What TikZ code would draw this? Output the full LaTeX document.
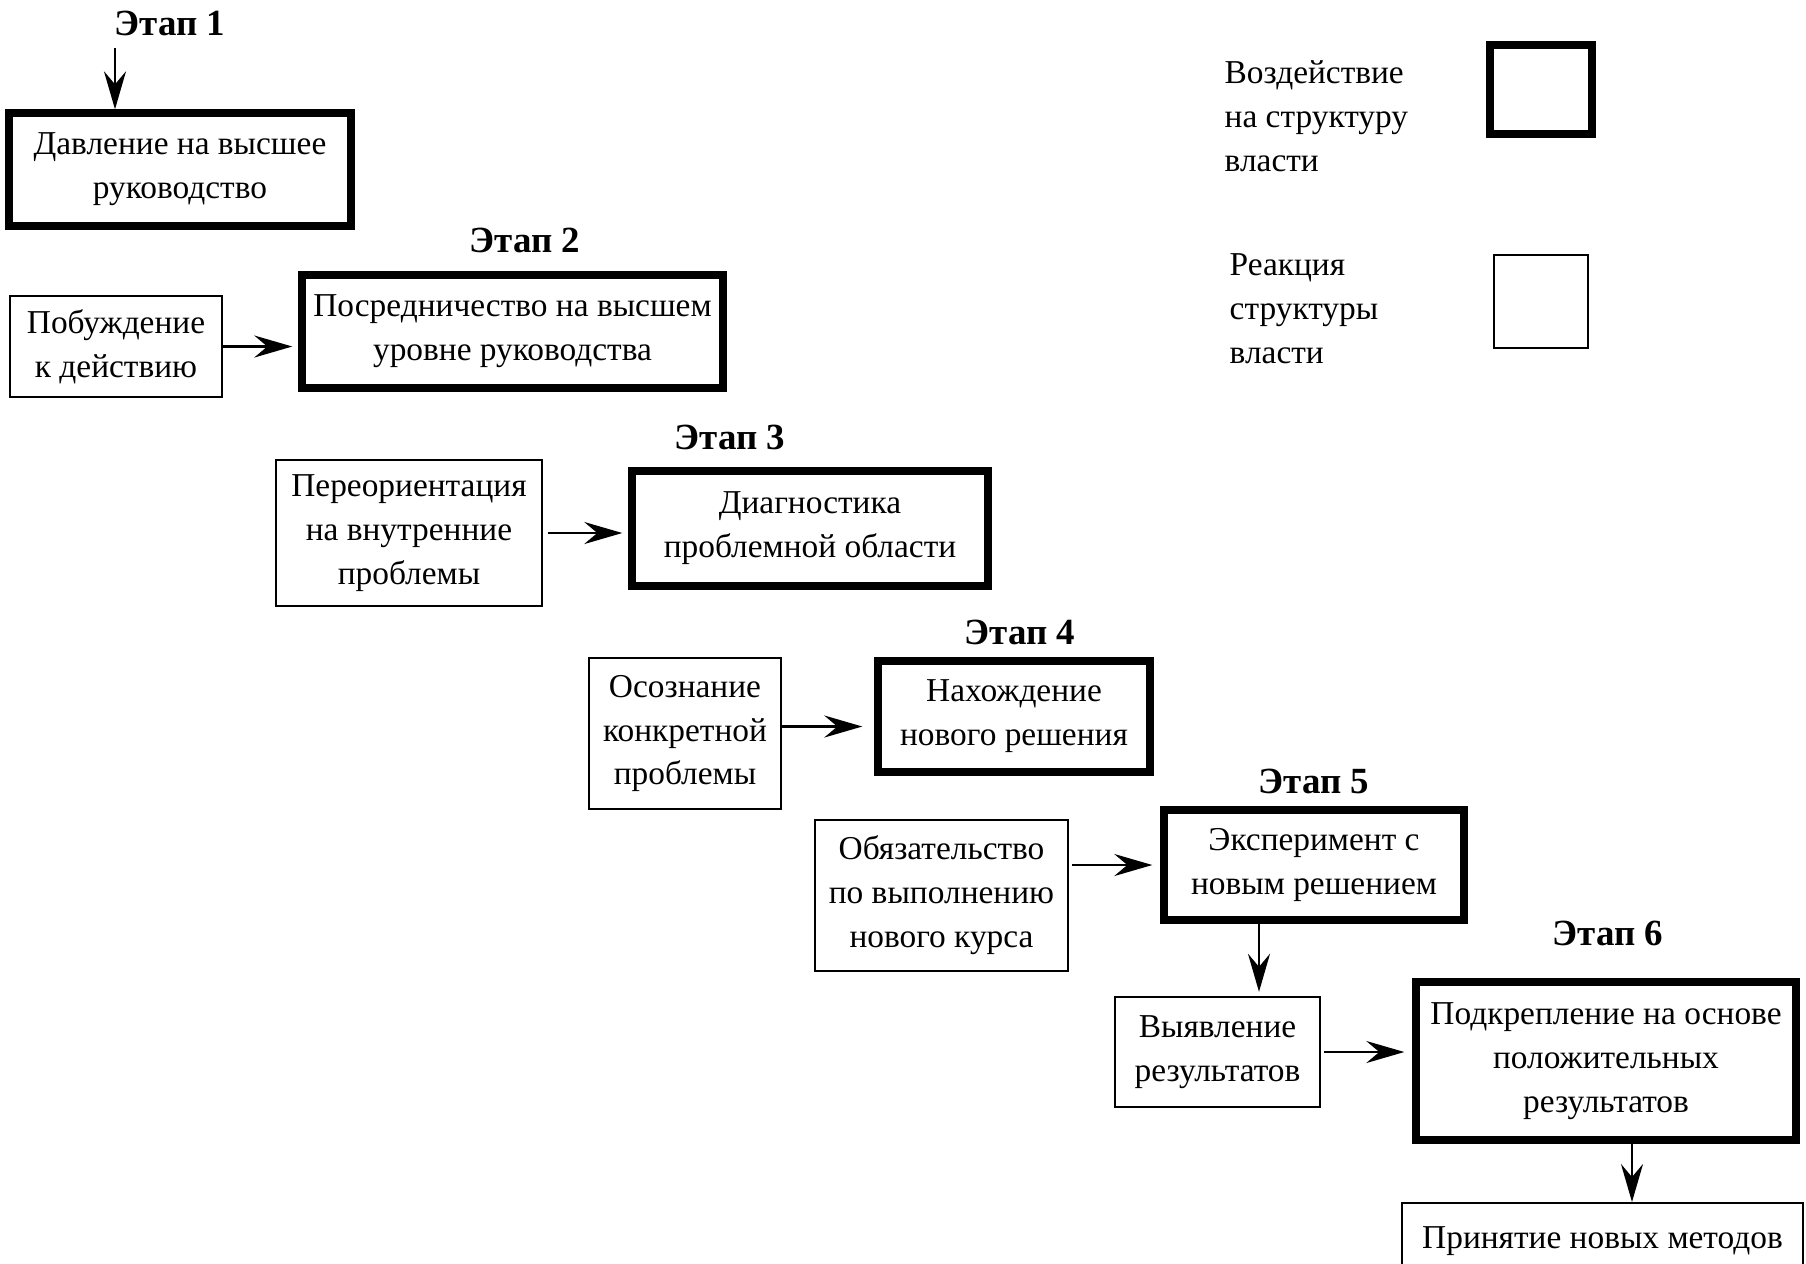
\documentclass[tikz,border=0pt]{standalone}
\usepackage{fontspec}
\setmainfont{Liberation Serif}
\usetikzlibrary{arrows.meta}

\tikzset{
  impact/.style={draw, line width=2.1pt, align=center, inner sep=0pt},
  reaction/.style={draw, line width=0.7pt, align=center, inner sep=0pt},
  stage/.style={font=\bfseries\fontsize{10.5}{12}\selectfont},
  flow/.style={-{Stealth[length=3.8mm,width=2.2mm,inset=1.3mm]}, line width=0.8pt},
}

\begin{document}
\begin{tikzpicture}[font=\fontsize{9.5}{12.5}\selectfont]
        \useasboundingbox (0,0) rectangle (18.06,-12.63);
        \clip (0,0) rectangle (18.06,-12.63);

        % Этап 1
        \node[stage] (st1) at (1.70,-0.23) {Этап 1};
        \node[impact, minimum width=3.42cm, minimum height=1.13cm] (b1) at (1.80,-1.695) {Давление на высшее\\руководство};
        \coordinate (in1) at (1.15,-0.48);
        \draw[flow] (in1) -- (in1 |- b1.north);

        % Этап 2
        \node[stage] (st2) at (5.25,-2.40) {Этап 2};
        \node[reaction, minimum width=2.12cm, minimum height=1.01cm] (b2a) at (1.16,-3.465) {Побуждение\\к действию};
        \node[impact, minimum width=4.21cm, minimum height=1.13cm] (b2) at (5.125,-3.315) {Посредничество на высшем\\уровне руководства};
        \draw[flow, shorten >=0.6mm] (b2a.east) -- (b2a.east -| b2.west);

        % Этап 3
        \node[stage] (st3) at (7.30,-4.37) {Этап 3};
        \node[reaction, minimum width=2.66cm, minimum height=1.46cm] (b3a) at (4.09,-5.33) {Переориентация\\на внутренние\\проблемы};
        \node[impact, minimum width=3.56cm, minimum height=1.15cm] (b3) at (8.10,-5.285) {Диагностика\\проблемной области};
        \draw[flow, shorten <=0.5mm, shorten >=0.6mm] (b3a.east) -- (b3a.east -| b3.west);

        % Этап 4
        \node[stage] (st4) at (10.20,-6.32) {Этап 4};
        \node[reaction, minimum width=1.92cm, minimum height=1.51cm] (b4a) at (6.85,-7.335) {Осознание\\конкретной\\проблемы};
        \node[impact, minimum width=2.72cm, minimum height=1.11cm] (b4) at (10.14,-7.165) {Нахождение\\нового решения};
        \draw[flow, shorten >=1.2mm] ([yshift=0.07cm]b4a.east) -- ([yshift=0.07cm]b4a.east -| b4.west);

        % Этап 5
        \node[stage] (st5) at (13.14,-7.81) {Этап 5};
        \node[reaction, minimum width=2.53cm, minimum height=1.51cm] (b5a) at (9.415,-8.955) {Обязательство\\по выполнению\\нового курса};
        \node[impact, minimum width=3.00cm, minimum height=1.10cm] (b5) at (13.14,-8.65) {Эксперимент с\\новым решением};
        \draw[flow, shorten <=0.3mm, shorten >=0.8mm] (b5a.east |- b5.west) -- (b5.west);
        \node[reaction, minimum width=2.05cm, minimum height=1.10cm] (b5b) at (12.175,-10.52) {Выявление\\результатов};
        \draw[flow, shorten >=0.4mm] ([xshift=-0.55cm]b5.south) -- ([xshift=-0.55cm]b5.south |- b5b.north);

        % Этап 6
        \node[stage] (st6) at (16.08,-9.33) {Этап 6};
        \node[impact, minimum width=3.80cm, minimum height=1.58cm] (b6) at (16.06,-10.61) {Подкрепление на основе\\положительных\\результатов};
        \draw[flow, shorten <=0.3mm, shorten >=0.8mm] (b5b.east) -- (b5b.east -| b6.west);
        \node[reaction, minimum width=4.01cm, anchor=north, text height=0.45cm, text depth=0.7cm] (b6b) at (16.025,-12.02) {Принятие новых методов};
        \draw[flow] ([xshift=0.26cm]b6.south) -- ([xshift=0.26cm]b6.south |- b6b.north);

        % легенда
        \node[anchor=west, align=left, inner sep=0pt] (lgimpacttxt) at (12.24,-1.16) {Воздействие\\на структуру\\власти};
        \node[impact, minimum width=1.02cm, minimum height=0.89cm] (lgimpact) at (15.41,-0.895) {};
        \node[anchor=west, align=left, inner sep=0pt] (lgreacttxt) at (12.29,-3.09) {Реакция\\структуры\\власти};
        \node[reaction, minimum width=0.94cm, minimum height=0.93cm] (lgreact) at (15.41,-3.015) {};
\end{tikzpicture}
\end{document}
